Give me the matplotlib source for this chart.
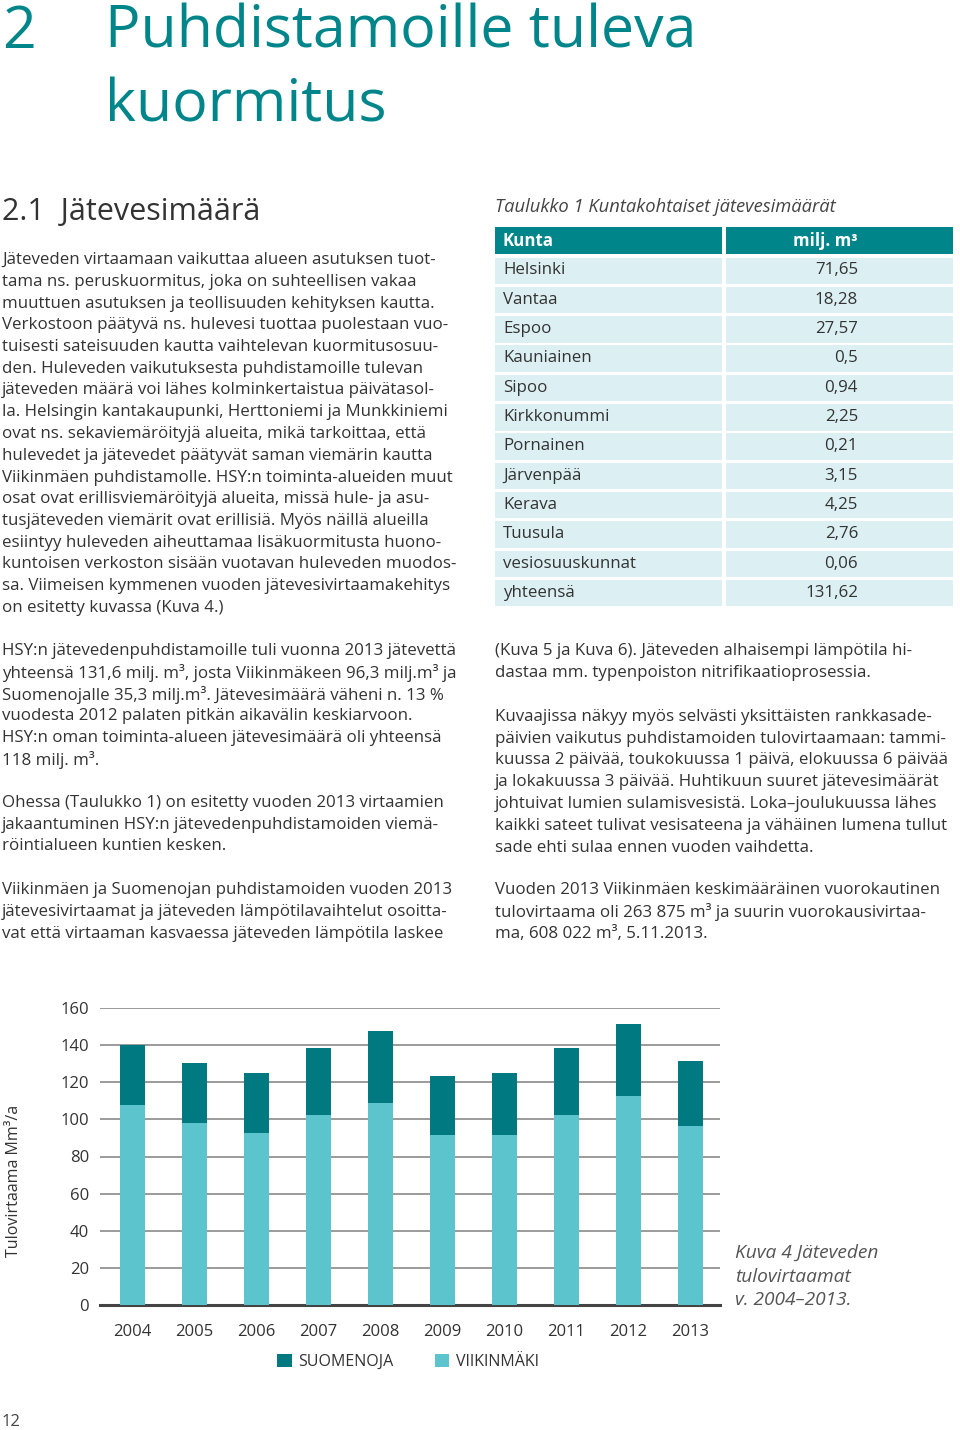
import matplotlib.pyplot as plt
from matplotlib.patches import Rectangle

plt.rcParams['font.family'] = ['Open Sans', 'DejaVu Sans']

# chart data (milj. m3 / a)
years = ['2004', '2005', '2006', '2007', '2008', '2009', '2010', '2011', '2012', '2013']
viikinmaki = [107.5, 98.2, 92.8, 102.2, 108.8, 91.6, 91.6, 102.2, 112.7, 96.3]
suomenoja = [32.3, 32.1, 32.3, 36.0, 38.9, 31.9, 33.5, 36.0, 38.7, 35.3]

# table data
kunnat = ['Helsinki', 'Vantaa', 'Espoo', 'Kauniainen', 'Sipoo', 'Kirkkonummi', 'Pornainen',
          'Järvenpää', 'Kerava', 'Tuusula', 'vesiosuuskunnat', 'yhteensä']
maarat = ['71,65', '18,28', '27,57', '0,5', '0,94', '2,25', '0,21', '3,15', '4,25', '2,76',
          '0,06', '131,62']

teal = '#00868a'
dark = '#007a80'
light = '#5bc4cc'
rowbg = '#dcf0f3'
txt = '#333333'

left_col = [
    (260, ["Jäteveden virtaamaan vaikuttaa alueen asutuksen tuot-",
           "tama ns. peruskuormitus, joka on suhteellisen vakaa",
           "muuttuen asutuksen ja teollisuuden kehityksen kautta.",
           "Verkostoon päätyvä ns. hulevesi tuottaa puolestaan vuo-",
           "tuisesti sateisuuden kautta vaihtelevan kuormitusosuu-",
           "den. Huleveden vaikutuksesta puhdistamoille tulevan",
           "jäteveden määrä voi lähes kolminkertaistua päivätasol-",
           "la. Helsingin kantakaupunki, Herttoniemi ja Munkkiniemi",
           "ovat ns. sekaviemäröityjä alueita, mikä tarkoittaa, että",
           "hulevedet ja jätevedet päätyvät saman viemärin kautta",
           "Viikinmäen puhdistamolle. HSY:n toiminta-alueiden muut",
           "osat ovat erillisviemäröityjä alueita, missä hule- ja asu-",
           "tusjäteveden viemärit ovat erillisiä. Myös näillä alueilla",
           "esiintyy huleveden aiheuttamaa lisäkuormitusta huono-",
           "kuntoisen verkoston sisään vuotavan huleveden muodos-",
           "sa. Viimeisen kymmenen vuoden jätevesivirtaamakehitys",
           "on esitetty kuvassa (Kuva 4.)"]),
    (651, ["HSY:n jätevedenpuhdistamoille tuli vuonna 2013 jätevettä",
           "yhteensä 131,6 milj. m³, josta Viikinmäkeen 96,3 milj.m³ ja",
           "Suomenojalle 35,3 milj.m³. Jätevesimäärä väheni n. 13 %",
           "vuodesta 2012 palaten pitkän aikavälin keskiarvoon.",
           "HSY:n oman toiminta-alueen jätevesimäärä oli yhteensä",
           "118 milj. m³."]),
    (803, ["Ohessa (Taulukko 1) on esitetty vuoden 2013 virtaamien",
           "jakaantuminen HSY:n jätevedenpuhdistamoiden viemä-",
           "röintialueen kuntien kesken."]),
    (890, ["Viikinmäen ja Suomenojan puhdistamoiden vuoden 2013",
           "jätevesivirtaamat ja jäteveden lämpötilavaihtelut osoitta-",
           "vat että virtaaman kasvaessa jäteveden lämpötila laskee"]),
]
right_col = [
    (651, ["(Kuva 5 ja Kuva 6). Jäteveden alhaisempi lämpötila hi-",
           "dastaa mm. typenpoiston nitrifikaatioprosessia."]),
    (717, ["Kuvaajissa näkyy myös selvästi yksittäisten rankkasade-",
           "päivien vaikutus puhdistamoiden tulovirtaamaan: tammi-",
           "kuussa 2 päivää, toukokuussa 1 päivä, elokuussa 6 päivää",
           "ja lokakuussa 3 päivää. Huhtikuun suuret jätevesimäärät",
           "johtuivat lumien sulamisvesistä. Loka–joulukuussa lähes",
           "kaikki sateet tulivat vesisateena ja vähäinen lumena tullut",
           "sade ehti sulaa ennen vuoden vaihdetta."]),
    (890, ["Vuoden 2013 Viikinmäen keskimääräinen vuorokautinen",
           "tulovirtaama oli 263 875 m³ ja suurin vuorokausivirtaa-",
           "ma, 608 022 m³, 5.11.2013."]),
]

fig = plt.figure(figsize=(9.6, 14.3), dpi=100)
page = fig.add_axes([0, 0, 1, 1])
page.set_xlim(0, 960)
page.set_ylim(1430, 0)
page.axis('off')

# headings
page.text(2, 48, '2', fontsize=42.5, color=teal, va='baseline')
page.text(105, 48, 'Puhdistamoille tuleva', fontsize=42.5, color=teal, va='baseline')
page.text(105, 122, 'kuormitus', fontsize=42.5, color=teal, va='baseline')
page.text(2, 212, '2.1  Jätevesimäärä', fontsize=22, color=txt, va='center')

body = 12.15
pitch = 21.75
for y0, lines in left_col:
    for i, line in enumerate(lines):
        page.text(2, y0 + i * pitch, line, fontsize=body, color=txt, va='center')
for y0, lines in right_col:
    for i, line in enumerate(lines):
        page.text(495, y0 + i * pitch, line, fontsize=body, color=txt, va='center')

# table
page.text(495, 207, 'Taulukko 1 Kuntakohtaiset jätevesimäärät', fontsize=13.2,
          style='italic', color='#444444', va='center')
page.add_patch(Rectangle((495, 227), 227, 27, color=teal, lw=0))
page.add_patch(Rectangle((726, 227), 227, 27, color=teal, lw=0))
page.text(503, 241, 'Kunta', fontsize=body, color='white', weight='bold', va='center')
page.text(858, 241, 'milj. m³', fontsize=body, color='white', weight='bold', va='center', ha='right')
for i, (k, m) in enumerate(zip(kunnat, maarat)):
    yc = 270.5 + i * 29.3
    page.add_patch(Rectangle((495, yc - 13), 227, 26.5, color=rowbg, lw=0))
    page.add_patch(Rectangle((726, yc - 13), 227, 26.5, color=rowbg, lw=0))
    page.text(503, yc, k, fontsize=body, color=txt, va='center')
    page.text(858, yc, m, fontsize=body, color=txt, va='center', ha='right')

# chart
ax = fig.add_axes([100 / 960, 1 - 1305 / 1430, 620 / 960, 297 / 1430])
x = range(len(years))
ax.bar(x, viikinmaki, width=0.4, color=light, label='VIIKINMÄKI', zorder=3)
ax.bar(x, suomenoja, width=0.4, bottom=viikinmaki, color=dark, label='SUOMENOJA', zorder=3)
ax.set_xlim(-0.52, 9.48)
ax.set_ylim(0, 160)
ax.set_yticks(range(0, 161, 20))
ax.yaxis.grid(True, color='#8a8a8a', lw=1.2, zorder=0)
ax.set_xticks(list(x))
ax.set_xticklabels(years)
ax.tick_params(length=0, labelsize=12, colors='#333333')
ax.tick_params(axis='x', pad=14)
ax.tick_params(axis='y', pad=8)
for s in ['top', 'right', 'left']:
    ax.spines[s].set_visible(False)
ax.spines['bottom'].set_color('#444444')
ax.spines['bottom'].set_linewidth(2.2)
ax.set_ylabel('Tulovirtaama Mm³/a', fontsize=11.5, color='#333333')
ax.yaxis.set_label_coords(-0.125, 0.417)
ax.set_facecolor('none')

h, l = ax.get_legend_handles_labels()
fig.legend(h[::-1], l[::-1], loc='center', bbox_to_anchor=(408 / 960, 1 - 1362 / 1430),
           ncol=2, frameon=False, fontsize=11.5, handlelength=0.9, handleheight=0.9,
           columnspacing=2.6, handletextpad=0.4, labelcolor='#333333')

page.text(735, 1253, 'Kuva 4 Jäteveden', fontsize=13.8, style='italic', color='#555555', va='center')
page.text(735, 1277, 'tulovirtaamat', fontsize=13.8, style='italic', color='#555555', va='center')
page.text(735, 1300, 'v. 2004–2013.', fontsize=13.8, style='italic', color='#555555', va='center')
page.text(2, 1422, '12', fontsize=12, color='#444444', va='center')

fig.savefig('out.png', dpi=100)
